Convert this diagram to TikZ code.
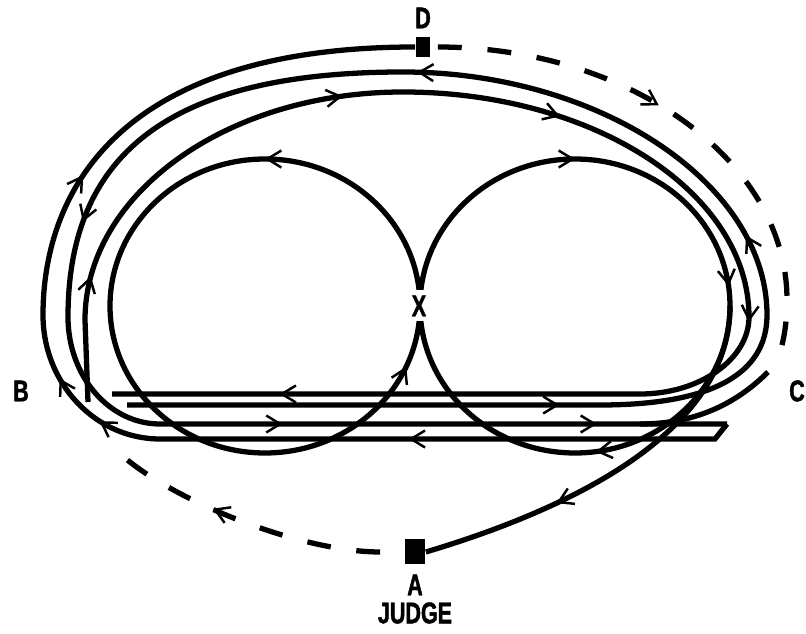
\documentclass[tikz,border=0pt]{standalone}
\usepackage{fontspec}
\newfontfamily\markfont{Liberation Sans}[FakeStretch=0.72,FakeBold=1.5]
\usetikzlibrary{arrows.meta,decorations.markings}
\tikzset{chev/.tip={Straight Barb[length=2.8mm,width=3.4mm,line width=1.4pt]}}

\begin{document}
\begin{tikzpicture}[x=0.02cm,y=-0.02cm,
  track/.style={draw=black,line width=3pt},
  dashtrack/.style={track,dash pattern=on 13.6pt off 14.7pt},
  fwd/.style={postaction={decorate,decoration={markings,mark=at position #1 with {\arrow{chev}}}}},
  bwd/.style={postaction={decorate,decoration={markings,mark=at position #1 with {\arrowreversed{chev}}}}},
  marker/.style={font=\markfont\bfseries\fontsize{17}{19}\selectfont,text=black,inner sep=0pt},
  post/.style={fill=black,inner sep=0pt},
]
\useasboundingbox[fill=white] (0,0) rectangle (806,634);
\node[post,minimum width=0.3cm,minimum height=0.4cm] (Dpost) at (423,47) {};
\node[post,minimum width=0.42cm,minimum height=0.5cm] (Apost) at (415,552) {};
\node[marker] (Dlbl) at (423,18) {D};
\node[marker] (Albl) at (415,585) {A};
\node[marker] (judge) at (415,613) {JUDGE};
\node[marker] (Blbl) at (21,391) {B};
\node[marker] (Clbl) at (797,391) {C};

\draw[track,bwd=.75,bwd=.066] (265,306) ellipse [x radius=155,y radius=147];
\draw[track,fwd=.75,fwd=.979,fwd=.228] (575,306) ellipse [x radius=155,y radius=147];
\node[marker,fill=white,minimum width=0.5cm,minimum height=0.62cm] (X) at (419,306) {X};

\draw[track,fwd=.254,fwd=.498,fwd=.544,fwd=.711] (727,424) -- (715,439) -- (160,439)
  .. controls (95,439) and (43,383) .. (43,315) .. controls (43,200) and (110,47) .. (Dpost.west);
\draw[track,fwd=.183,fwd=.325,fwd=.487,fwd=.653,fwd=.812,fwd=.945] (127,405) -- (600,405)
  .. controls (710,405) and (767,375) .. (767,315) .. controls (767,184) and (600,72) .. (403,72)
  .. controls (175,72) and (68,150) .. (68,317) .. controls (68,376) and (109,424) .. (160,424) -- (727,424);
\draw[track,fwd=.077,fwd=.276,fwd=.41,fwd=.592,fwd=.898] (88,402) -- (85,320)
  .. controls (85,194) and (227,92) .. (403,92) .. controls (594,92) and (749,193) .. (749,317)
  .. controls (749,359) and (700,394) .. (640,394) -- (112,394);
\draw[track,fwd=.665] (730,306) .. controls (730,420) and (600,500) .. (Apost.east);
\draw[track] (768,372) .. controls (740,400) and (700,424) .. (640,424);

\draw[dashtrack,shorten <=0.14cm,fwd=.44] (Dpost.east) .. controls (628,47) and (787,160) .. (787,300)
  .. controls (787,325) and (783,345) .. (778,358);
\draw[dashtrack,shorten <=0.48cm,fwd=.64] (Apost.west) .. controls (300,552) and (170,500) .. (118,452);
\end{tikzpicture}
\end{document}
